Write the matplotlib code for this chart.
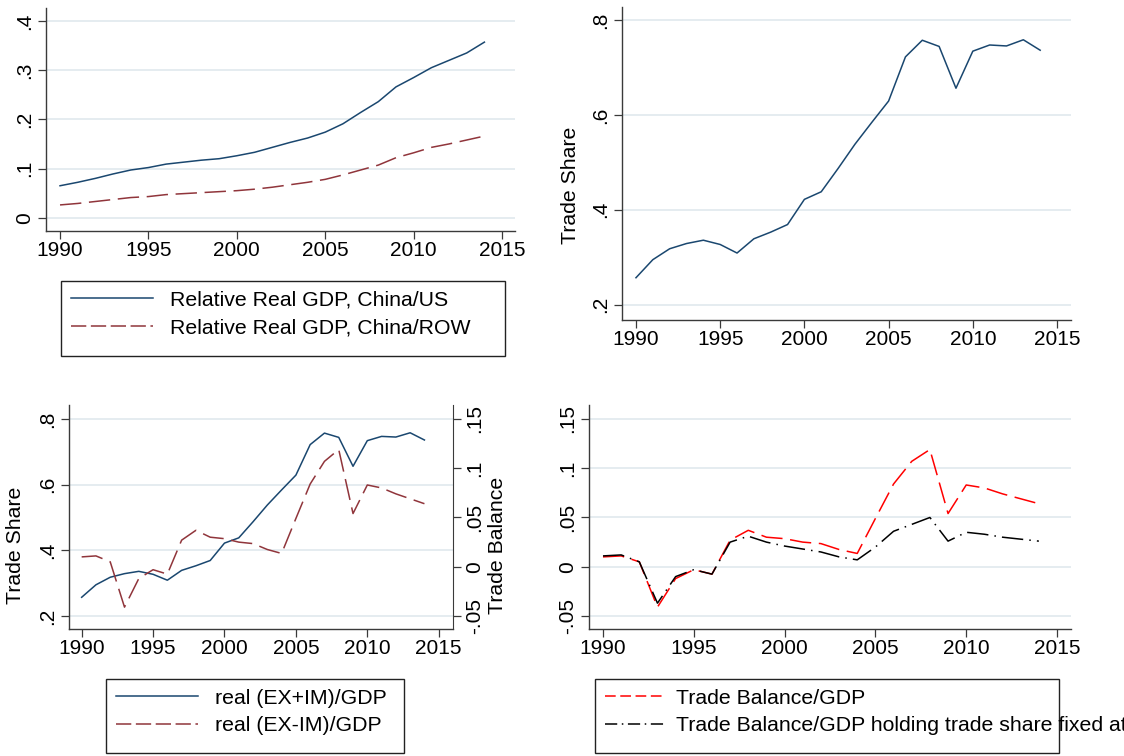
import matplotlib
matplotlib.use("Agg")
import matplotlib.pyplot as plt
from matplotlib.lines import Line2D
from matplotlib.patches import Rectangle
from matplotlib.ticker import FuncFormatter

plt.rcParams['font.family'] = ['Liberation Sans', 'DejaVu Sans']

W, H = 1124, 756

years = [1990, 1991, 1992, 1993, 1994, 1995, 1996, 1997, 1998, 1999,
         2000, 2001, 2002, 2003, 2004, 2005, 2006, 2007, 2008, 2009,
         2010, 2011, 2012, 2013, 2014]

gdp_china_us = [0.065, 0.072, 0.080, 0.089, 0.097, 0.102, 0.109, 0.113, 0.117, 0.120,
                0.126, 0.133, 0.143, 0.153, 0.162, 0.174, 0.191, 0.214, 0.236, 0.266,
                0.285, 0.305, 0.320, 0.335, 0.357]
gdp_china_row = [0.026, 0.029, 0.033, 0.037, 0.041, 0.043, 0.047, 0.049, 0.051, 0.053,
                 0.055, 0.058, 0.062, 0.067, 0.072, 0.078, 0.087, 0.097, 0.107, 0.122,
                 0.132, 0.143, 0.150, 0.158, 0.166]
trade_share = [0.257, 0.295, 0.318, 0.329, 0.336, 0.327, 0.309, 0.339, 0.353, 0.369,
               0.422, 0.438, 0.487, 0.538, 0.584, 0.629, 0.722, 0.757, 0.744, 0.656,
               0.734, 0.747, 0.745, 0.758, 0.736]
trade_balance = [0.010, 0.011, 0.005, -0.041, -0.012, -0.003, -0.0075, 0.027, 0.037, 0.030,
                 0.0285, 0.025, 0.0235, 0.0175, 0.0135, 0.049, 0.084, 0.107, 0.119, 0.054,
                 0.083, 0.080, 0.074, 0.069, 0.064]
tb_fixed_share = [0.011, 0.012, 0.005, -0.037, -0.010, -0.003, -0.0075, 0.025, 0.031, 0.025,
                  0.021, 0.018, 0.015, 0.010, 0.007, 0.020, 0.036, 0.043, 0.050, 0.026,
                  0.035, 0.033, 0.030, 0.028, 0.026]

x_ticks = [1990, 1995, 2000, 2005, 2010, 2015]
gdp_ticks = [0, 0.1, 0.2, 0.3, 0.4]
share_ticks = [0.2, 0.4, 0.6, 0.8]
tb_ticks = [-0.05, 0, 0.05, 0.1, 0.15]

NAVY = '#1a476f'
MAROON = '#90353b'
RED = '#ff0000'
GRID = '#e3ebef'
AXCOL = '#3a3a3a'
TICKFS = 15
LABFS = 15.3


def stata_fmt(v, pos=None):
    s = '%g' % round(v, 4)
    return s.replace('0.', '.')


def box(x0, y0, x1, y1):
    # pixel box (top-left origin) -> figure fraction rect
    return [x0 / W, 1 - y1 / H, (x1 - x0) / W, (y1 - y0) / H]


def style_axes(ax, yticks, ylim, xlim):
    ax.set_xlim(*xlim)
    ax.set_ylim(*ylim)
    ax.set_xticks(x_ticks)
    ax.set_yticks(yticks)
    ax.yaxis.set_major_formatter(FuncFormatter(stata_fmt))
    ax.grid(axis='y', color=GRID, lw=1.3)
    ax.set_axisbelow(True)
    for side in ['top', 'right']:
        ax.spines[side].set_visible(False)
    for side in ['left', 'bottom']:
        ax.spines[side].set_color(AXCOL)
        ax.spines[side].set_linewidth(1.0)
    ax.tick_params(axis='both', length=5.5, width=0.9, color=AXCOL, labelsize=TICKFS)
    ax.tick_params(axis='x', pad=2)
    ax.tick_params(axis='y', pad=3, labelrotation=90)
    for lab in ax.get_yticklabels():
        lab.set_va('center')


def add_legend(fig, handles, labels, rect_px, hlen, tpad=0.8):
    x0, y0, x1, y1 = rect_px
    fig.patches.append(Rectangle((x0 / W, 1 - y1 / H), (x1 - x0) / W, (y1 - y0) / H,
                                 transform=fig.transFigure, fill=False,
                                 edgecolor='#222222', lw=1.0))
    fig.legend(handles, labels, loc='upper left',
               bbox_to_anchor=(x0 / W, 1 - y0 / H), frameon=False,
               fontsize=LABFS, handlelength=hlen, handletextpad=tpad,
               labelspacing=0.42, borderpad=0.45, borderaxespad=0)


fig = plt.figure(figsize=(W / 100, H / 100), dpi=100)
fig.patch.set_facecolor('white')

# top left: relative GDP
ax1 = fig.add_axes(box(45.7, 8, 515, 230.7))
ax1.plot(years, gdp_china_us, color=NAVY, lw=1.1)
ax1.plot(years, gdp_china_row, color=MAROON, lw=1.1, dashes=(14, 5))
style_axes(ax1, gdp_ticks, (-0.0264, 0.4264), (1989.19, 2015.73))
add_legend(fig, [Line2D([], [], color=NAVY, lw=1.1),
                 Line2D([], [], color=MAROON, lw=1.1, dashes=(10, 3))],
           ['Relative Real GDP, China/US', 'Relative Real GDP, China/ROW'],
           (61, 281, 505, 356), 3.9)

# top right: trade share
ax2 = fig.add_axes(box(622, 7, 1071, 320))
ax2.plot(years, trade_share, color=NAVY, lw=1.1)
style_axes(ax2, share_ticks, (0.168, 0.827), (1989.17, 2015.83))
ax2.set_ylabel('Trade Share', fontsize=LABFS)
ax2.yaxis.set_label_coords(-0.0935, 0.43)

# bottom left: trade share + trade balance (twin)
ax3 = fig.add_axes(box(68.8, 405, 453, 629))
ax3.plot(years, trade_share, color=NAVY, lw=1.1)
style_axes(ax3, share_ticks, (0.1604, 0.8426), (1989.1, 2016.0))
ax3.set_ylabel('Trade Share', fontsize=LABFS)
ax3.yaxis.set_label_coords(-0.1153, 0.375)
ax3b = ax3.twinx()
ax3b.plot(years, trade_balance, color=MAROON, lw=1.1, dashes=(14, 5))
ax3b.set_ylim(-0.0632, 0.1642)
ax3b.set_yticks(tb_ticks)
ax3b.yaxis.set_major_formatter(FuncFormatter(stata_fmt))
for side in ['top', 'left', 'bottom']:
    ax3b.spines[side].set_visible(False)
ax3b.spines['right'].set_color(AXCOL)
ax3b.tick_params(axis='y', length=5.5, width=0.9, color=AXCOL, labelsize=TICKFS,
                 pad=3, labelrotation=90)
for lab in ax3b.get_yticklabels():
    lab.set_va('center')
ax3b.set_ylabel('Trade Balance', fontsize=LABFS)
ax3b.yaxis.set_label_coords(1.091, 0.375)
add_legend(fig, [Line2D([], [], color=NAVY, lw=1.1),
                 Line2D([], [], color=MAROON, lw=1.1, dashes=(10, 3))],
           ['real (EX+IM)/GDP', 'real (EX-IM)/GDP'],
           (106, 679, 404, 753), 3.9)

# bottom right: trade balance vs fixed share
ax4 = fig.add_axes(box(589, 405, 1071, 629))
ax4.plot(years, trade_balance, color=RED, lw=1.1, dashes=(14, 5))
ax4.plot(years, tb_fixed_share, color='black', lw=1.1, dashes=(14, 4, 1, 4))
style_axes(ax4, tb_ticks, (-0.0632, 0.1642), (1989.23, 2015.77))
add_legend(fig, [Line2D([], [], color=RED, lw=1.1, dashes=(7, 3)),
                 Line2D([], [], color='black', lw=1.1, dashes=(8, 3, 1, 3))],
           ['Trade Balance/GDP',
            'Trade Balance/GDP holding trade share fixed at 1990 level'],
           (595, 679, 1059, 753), 2.9, tpad=0.45)

fig.savefig('out.png', dpi=100)
